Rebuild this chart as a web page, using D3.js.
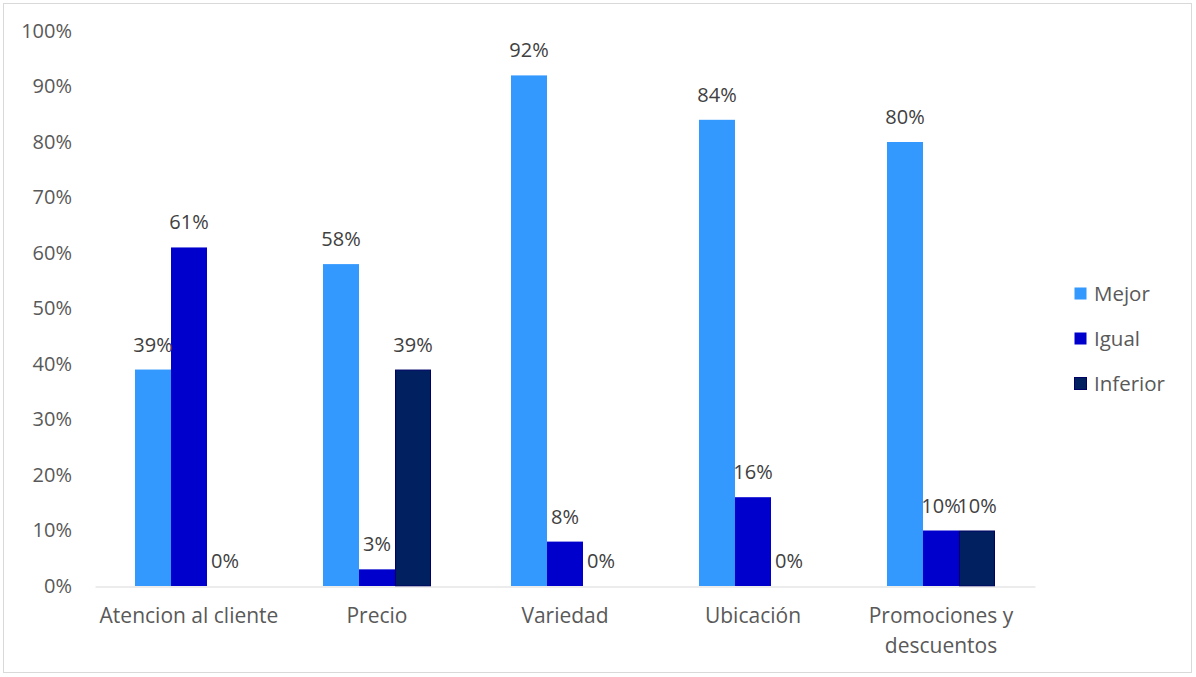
<!DOCTYPE html>
<html>
<head>
<meta charset="utf-8">
<script src="https://cdn.jsdelivr.net/npm/d3@7"></script>
<style>
  html, body { margin: 0; padding: 0; background: #fff; }
  svg { display: block; font-family: "Open Sans", sans-serif; }
</style>
</head>
<body>
<svg id="chart" width="1196" height="677"></svg>
<script>
// Category names (multi-line where the label wraps)
const categories = [
  ["Atencion al cliente"],
  ["Precio"],
  ["Variedad"],
  ["Ubicación"],
  ["Promociones y", "descuentos"]
];
const seriesNames = ["Mejor", "Igual", "Inferior"];
const mejor    = [0.39, 0.58, 0.92, 0.84, 0.80];
const igual    = [0.61, 0.03, 0.08, 0.16, 0.10];
const inferior = [0.00, 0.39, 0.00, 0.00, 0.10];
const yTicks = [0, 0.1, 0.2, 0.3, 0.4, 0.5, 0.6, 0.7, 0.8, 0.9, 1.0];

const colors = { Mejor: "#3399FF", Igual: "#0000CC", Inferior: "#002060" };
const seriesValues = { Mejor: mejor, Igual: igual, Inferior: inferior };

const svg = d3.select("#chart");
const textColor = "#595959";
const tickSize = 20;
const labelSize = 20;
const catSize = 21;
const legendSize = 20.5;

// outer chart border
svg.append("rect")
  .attr("x", 3.5).attr("y", 3.5)
  .attr("width", 1188).attr("height", 669)
  .attr("fill", "#fff").attr("stroke", "#d9d9d9").attr("stroke-width", 1);

const plot = { left: 95, right: 1035, top: 31, bottom: 586 };

const x0 = d3.scaleBand()
  .domain(d3.range(categories.length))
  .range([plot.left, plot.right])
  .paddingInner(0.4255)
  .paddingOuter(0.2128);

const x1 = d3.scaleBand()
  .domain(seriesNames)
  .range([0, x0.bandwidth()]);

const y = d3.scaleLinear().domain([0, 1]).range([plot.bottom, plot.top]);

// y axis labels
const yAxis = d3.axisLeft(y)
  .tickValues(yTicks)
  .tickFormat(d3.format(".0%"))
  .tickSize(0)
  .tickPadding(0);
const gy = svg.append("g")
  .attr("transform", `translate(${72},0)`)
  .call(yAxis);
gy.select(".domain").remove();
gy.selectAll("text")
  .attr("fill", textColor)
  .attr("font-size", tickSize)
  .attr("font-family", "'Open Sans', sans-serif");

// bars
const groups = svg.append("g")
  .selectAll("g")
  .data(categories.map((c, i) => i))
  .join("g")
  .attr("transform", i => `translate(${x0(i)},0)`);

groups.selectAll("rect")
  .data(i => seriesNames.map(s => ({ s, v: seriesValues[s][i] })))
  .join("rect")
  .attr("x", d => x1(d.s) + (d.s === "Inferior" ? 0.5 : 0))
  .attr("y", d => y(d.v) + (d.s === "Inferior" && d.v > 0 ? 0.5 : 0))
  .attr("width", d => x1.bandwidth() - (d.s === "Inferior" ? 1 : 0))
  .attr("height", d => Math.max(0, y(0) - y(d.v) - (d.s === "Inferior" && d.v > 0 ? 0.5 : 0)))
  .attr("fill", d => colors[d.s])
  .attr("stroke", d => d.s === "Inferior" && d.v > 0 ? "#000066" : "none")
  .attr("stroke-width", 1);

// x axis baseline
const xAxis = d3.axisBottom(x0).tickSize(0).tickFormat("");
const gx = svg.append("g")
  .attr("transform", `translate(0,${plot.bottom + 0.5})`)
  .call(xAxis);
gx.select(".domain").attr("stroke", "#d9d9d9").attr("stroke-width", 1.2);

// data labels
groups.selectAll("text.lbl")
  .data(i => seriesNames.map(s => ({ s, v: seriesValues[s][i] })))
  .join("text")
  .attr("class", "lbl")
  .attr("x", d => x1(d.s) + x1.bandwidth() / 2)
  .attr("y", d => y(d.v) - 18)
  .attr("text-anchor", "middle")
  .attr("fill", "#404040")
  .attr("font-size", labelSize)
  .text(d => d3.format(".0%")(d.v));

// category labels
svg.append("g")
  .selectAll("text")
  .data(categories)
  .join("text")
  .attr("x", (d, i) => x0(i) + x0.bandwidth() / 2)
  .attr("y", 623)
  .attr("text-anchor", "middle")
  .attr("fill", textColor)
  .attr("font-size", catSize)
  .each(function(lines) {
    d3.select(this).selectAll("tspan")
      .data(lines)
      .join("tspan")
      .attr("x", d3.select(this).attr("x"))
      .attr("dy", (l, k) => k === 0 ? 0 : 30)
      .text(l => l);
  });

// legend
const legend = svg.append("g")
  .selectAll("g")
  .data(seriesNames)
  .join("g")
  .attr("transform", (d, i) => `translate(1074,${287 + i * 45})`);
legend.append("rect")
  .attr("x", 0.5).attr("y", 0.5)
  .attr("width", 12).attr("height", 12)
  .attr("fill", d => colors[d])
  .attr("stroke", d => d === "Inferior" ? "#000066" : "none");
legend.append("text")
  .attr("x", 20).attr("y", 14)
  .attr("fill", textColor)
  .attr("font-size", legendSize)
  .text(d => d);
</script>
</body>
</html>
